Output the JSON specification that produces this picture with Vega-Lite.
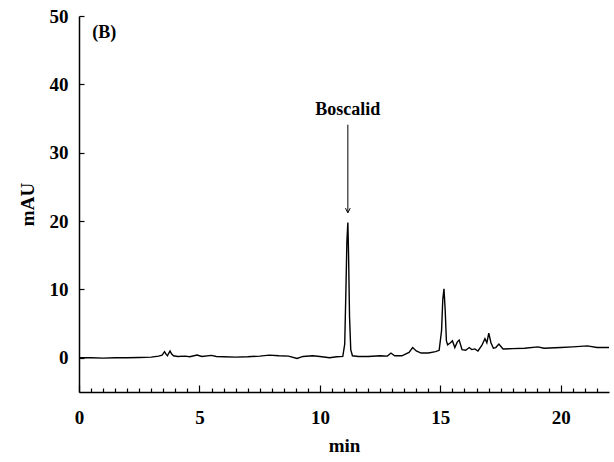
{
  "$schema": "https://vega.github.io/schema/vega-lite/v6.json",
  "width": 530,
  "height": 376,
  "autosize": "none",
  "padding": {"left": 79, "top": 16, "right": 5, "bottom": 70},
  "background": "white",
  "data": {"values": [{"note": "annotation"}]},
  "config": {
    "view": {"stroke": null},
    "font": "Liberation Serif",
    "axis": {
      "labelFont": "Liberation Serif",
      "labelFontWeight": "bold",
      "labelFontSize": 19,
      "labelColor": "black",
      "titleFont": "Liberation Serif",
      "titleFontWeight": "bold",
      "titleFontSize": 19,
      "titleColor": "black",
      "domainColor": "black",
      "domainWidth": 1.5,
      "tickColor": "black",
      "tickWidth": 1.2,
      "grid": false,
      "ticks": true,
      "labelFlush": false,
      "labelOverlap": false,
      "labelBound": false
    },
    "axisX": {
      "tickSize": {"condition": {"test": "datum.value % 5 == 0", "value": -7}, "value": -4},
      "labelPadding": 23,
      "titlePadding": 6
    },
    "axisY": {
      "tickSize": -5,
      "labelPadding": 16,
      "titlePadding": 12
    }
  },
  "datasets": {
    "trace": [
      {"t": 0, "mAU": 0}, {"t": 0.5, "mAU": 0.0}, {"t": 1.0, "mAU": -0.05}, {"t": 1.5, "mAU": 0.0},
      {"t": 2.0, "mAU": 0.0}, {"t": 2.5, "mAU": 0.05}, {"t": 3.0, "mAU": 0.1}, {"t": 3.3, "mAU": 0.25},
      {"t": 3.45, "mAU": 0.4}, {"t": 3.55, "mAU": 0.9}, {"t": 3.62, "mAU": 0.5}, {"t": 3.67, "mAU": 0.3},
      {"t": 3.73, "mAU": 0.7}, {"t": 3.78, "mAU": 1.0}, {"t": 3.84, "mAU": 0.6}, {"t": 3.92, "mAU": 0.3},
      {"t": 4.1, "mAU": 0.2}, {"t": 4.4, "mAU": 0.25}, {"t": 4.6, "mAU": 0.15}, {"t": 4.9, "mAU": 0.4},
      {"t": 5.1, "mAU": 0.2}, {"t": 5.5, "mAU": 0.35}, {"t": 5.7, "mAU": 0.2}, {"t": 6.0, "mAU": 0.15},
      {"t": 6.5, "mAU": 0.1}, {"t": 7.0, "mAU": 0.15}, {"t": 7.5, "mAU": 0.25}, {"t": 7.9, "mAU": 0.4},
      {"t": 8.3, "mAU": 0.3}, {"t": 8.7, "mAU": 0.25}, {"t": 9.05, "mAU": -0.1}, {"t": 9.3, "mAU": 0.2},
      {"t": 9.7, "mAU": 0.3}, {"t": 10.0, "mAU": 0.2}, {"t": 10.4, "mAU": 0.0}, {"t": 10.7, "mAU": 0.15},
      {"t": 10.95, "mAU": 0.2}, {"t": 11.03, "mAU": 2.0}, {"t": 11.08, "mAU": 10}, {"t": 11.12, "mAU": 17},
      {"t": 11.16, "mAU": 19.8}, {"t": 11.19, "mAU": 15}, {"t": 11.23, "mAU": 6}, {"t": 11.28, "mAU": 1.2},
      {"t": 11.35, "mAU": 0.3}, {"t": 11.6, "mAU": 0.2}, {"t": 12.0, "mAU": 0.2}, {"t": 12.5, "mAU": 0.3},
      {"t": 12.8, "mAU": 0.25}, {"t": 12.95, "mAU": 0.7}, {"t": 13.1, "mAU": 0.3}, {"t": 13.4, "mAU": 0.3},
      {"t": 13.7, "mAU": 0.8}, {"t": 13.85, "mAU": 1.5}, {"t": 14.0, "mAU": 1.0}, {"t": 14.2, "mAU": 0.7},
      {"t": 14.5, "mAU": 0.7}, {"t": 14.8, "mAU": 0.9}, {"t": 14.95, "mAU": 1.1}, {"t": 15.05, "mAU": 4},
      {"t": 15.1, "mAU": 8.5}, {"t": 15.15, "mAU": 10.1}, {"t": 15.2, "mAU": 7}, {"t": 15.25, "mAU": 2.5},
      {"t": 15.3, "mAU": 1.9}, {"t": 15.42, "mAU": 2.2}, {"t": 15.5, "mAU": 2.5}, {"t": 15.6, "mAU": 1.5},
      {"t": 15.7, "mAU": 2.3}, {"t": 15.78, "mAU": 2.6}, {"t": 15.9, "mAU": 1.2}, {"t": 16.05, "mAU": 1.1},
      {"t": 16.2, "mAU": 1.5}, {"t": 16.3, "mAU": 1.2}, {"t": 16.43, "mAU": 1.3}, {"t": 16.56, "mAU": 1.0},
      {"t": 16.72, "mAU": 1.8}, {"t": 16.85, "mAU": 2.8}, {"t": 16.93, "mAU": 2.2}, {"t": 17.01, "mAU": 3.6},
      {"t": 17.1, "mAU": 2.2}, {"t": 17.2, "mAU": 1.4}, {"t": 17.3, "mAU": 1.5}, {"t": 17.43, "mAU": 2.0},
      {"t": 17.6, "mAU": 1.3}, {"t": 18.0, "mAU": 1.35}, {"t": 18.5, "mAU": 1.4}, {"t": 19.05, "mAU": 1.6},
      {"t": 19.3, "mAU": 1.4}, {"t": 20.0, "mAU": 1.5}, {"t": 20.5, "mAU": 1.6}, {"t": 21.1, "mAU": 1.75},
      {"t": 21.5, "mAU": 1.5}, {"t": 22.0, "mAU": 1.5}
    ]
  },
  "layer": [
    {
      "data": {"name": "trace"},
      "mark": {"type": "line", "color": "black", "strokeWidth": 1.4, "interpolate": "linear"},
      "encoding": {
        "x": {
          "field": "t", "type": "quantitative", "title": "min",
          "scale": {"domain": [0, 22], "nice": false, "zero": false},
          "axis": {
            "values": [0,0.5,1,1.5,2,2.5,3,3.5,4,4.5,5,5.5,6,6.5,7,7.5,8,8.5,9,9.5,10,10.5,11,11.5,12,12.5,13,13.5,14,14.5,15,15.5,16,16.5,17,17.5,18,18.5,19,19.5,20,20.5,21,21.5],
            "labelExpr": "datum.value % 5 == 0 ? format(datum.value, 'd') : ''"
          }
        },
        "y": {
          "field": "mAU", "type": "quantitative", "title": "mAU",
          "scale": {"domain": [-5, 50], "nice": false, "zero": false},
          "axis": {"values": [0, 10, 20, 30, 40, 50]}
        }
      }
    },
    {
      "mark": {"type": "rule", "color": "black", "strokeWidth": 1},
      "encoding": {
        "x": {
          "datum": 11.16, "type": "quantitative", "title": "min",
          "axis": {
            "values": [0,0.5,1,1.5,2,2.5,3,3.5,4,4.5,5,5.5,6,6.5,7,7.5,8,8.5,9,9.5,10,10.5,11,11.5,12,12.5,13,13.5,14,14.5,15,15.5,16,16.5,17,17.5,18,18.5,19,19.5,20,20.5,21,21.5],
            "labelExpr": "datum.value % 5 == 0 ? format(datum.value, 'd') : ''"
          }
        },
        "y": {"datum": 34.1, "type": "quantitative", "title": "mAU", "axis": {"values": [0, 10, 20, 30, 40, 50]}},
        "y2": {"datum": 21.3}
      }
    },
    {
      "mark": {"type": "point", "shape": "M-0.5,-1L0,0L0.5,-1", "filled": false, "stroke": "black", "strokeWidth": 1, "size": 90, "opacity": 1},
      "encoding": {
        "x": {
          "datum": 11.16, "type": "quantitative", "title": "min",
          "axis": {
            "values": [0,0.5,1,1.5,2,2.5,3,3.5,4,4.5,5,5.5,6,6.5,7,7.5,8,8.5,9,9.5,10,10.5,11,11.5,12,12.5,13,13.5,14,14.5,15,15.5,16,16.5,17,17.5,18,18.5,19,19.5,20,20.5,21,21.5],
            "labelExpr": "datum.value % 5 == 0 ? format(datum.value, 'd') : ''"
          }
        },
        "y": {"datum": 21.2, "type": "quantitative", "title": "mAU", "axis": {"values": [0, 10, 20, 30, 40, 50]}}
      }
    },
    {
      "mark": {"type": "text", "text": "Boscalid", "font": "Liberation Serif", "fontWeight": "bold", "fontSize": 18, "color": "black", "align": "center", "baseline": "middle"},
      "encoding": {
        "x": {
          "datum": 11.16, "type": "quantitative", "title": "min",
          "axis": {
            "values": [0,0.5,1,1.5,2,2.5,3,3.5,4,4.5,5,5.5,6,6.5,7,7.5,8,8.5,9,9.5,10,10.5,11,11.5,12,12.5,13,13.5,14,14.5,15,15.5,16,16.5,17,17.5,18,18.5,19,19.5,20,20.5,21,21.5],
            "labelExpr": "datum.value % 5 == 0 ? format(datum.value, 'd') : ''"
          }
        },
        "y": {"datum": 36.3, "type": "quantitative", "title": "mAU", "axis": {"values": [0, 10, 20, 30, 40, 50]}}
      }
    },
    {
      "mark": {"type": "text", "text": "(B)", "font": "Liberation Serif", "fontWeight": "bold", "fontSize": 18, "color": "black", "align": "left", "baseline": "middle"},
      "encoding": {
        "x": {
          "datum": 0.55, "type": "quantitative", "title": "min",
          "axis": {
            "values": [0,0.5,1,1.5,2,2.5,3,3.5,4,4.5,5,5.5,6,6.5,7,7.5,8,8.5,9,9.5,10,10.5,11,11.5,12,12.5,13,13.5,14,14.5,15,15.5,16,16.5,17,17.5,18,18.5,19,19.5,20,20.5,21,21.5],
            "labelExpr": "datum.value % 5 == 0 ? format(datum.value, 'd') : ''"
          }
        },
        "y": {"datum": 47.5, "type": "quantitative", "title": "mAU", "axis": {"values": [0, 10, 20, 30, 40, 50]}}
      }
    }
  ]
}
